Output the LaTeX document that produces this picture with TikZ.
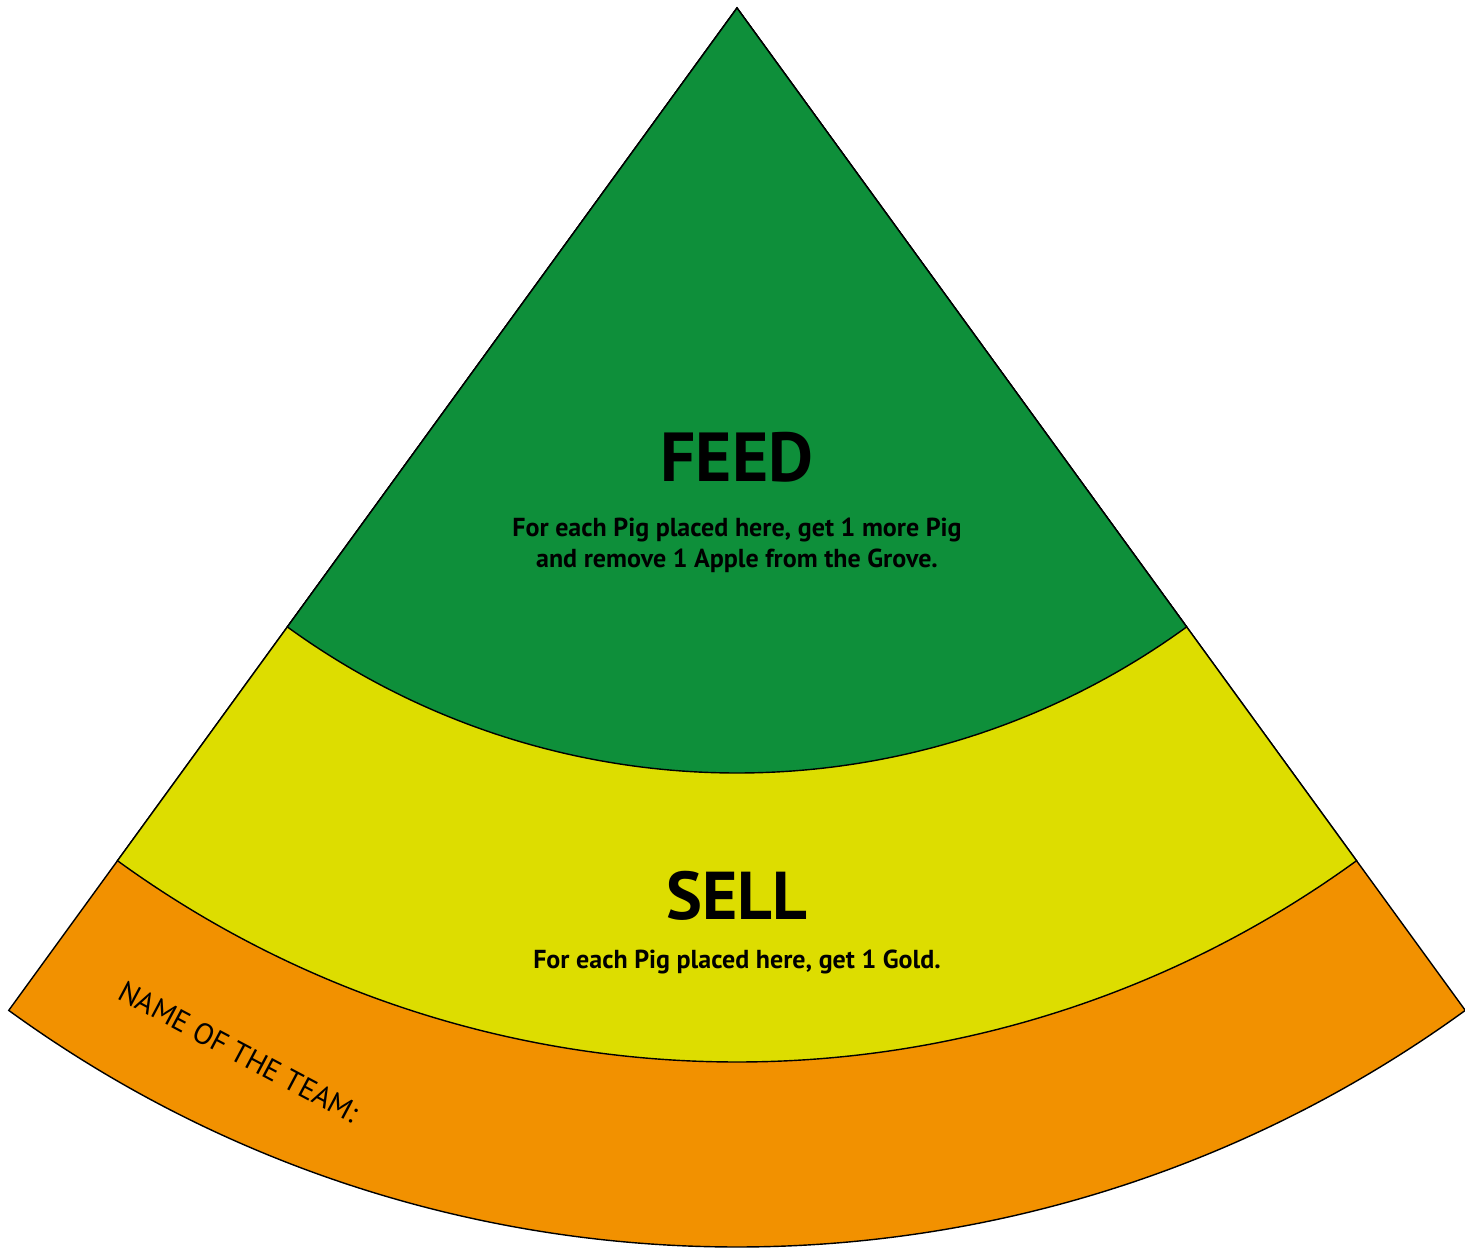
\documentclass[tikz,border=0pt]{standalone}
\usepackage{xcolor}
\usepackage{fontspec}
\setmainfont{PT Sans}
\usepackage{tikz}
\definecolor{feedgreen}{RGB}{14, 143, 58}
\definecolor{sellyellow}{RGB}{221, 221, 0}
\definecolor{teamorange}{RGB}{242, 145, 0}

\begin{document}
\begin{tikzpicture}[line width=0.8pt]
\useasboundingbox (0,0) rectangle (29.3,-24.98);
\coordinate (apex) at (14.74,-0.16);
% rings, outer one first
\foreach \r/\col in {24.78/teamorange, 21.08/sellyellow, 15.30/feedgreen} {
    \draw[black, fill=\col] (apex) -- ++(234:\r) arc[start angle=234, end angle=306, radius=\r] -- cycle;
}
\node[font=\bfseries\fontsize{39.5}{42}\selectfont] (feed) at (14.74,-9.14) {FEED};
\node[font=\bfseries\fontsize{14.8}{17.6}\selectfont, align=center] (feedtext) at (14.74,-10.9) {For each Pig placed here, get 1 more Pig\\and remove 1 Apple from the Grove.};
\node[font=\bfseries\fontsize{38.5}{42}\selectfont] (sell) at (14.74,-17.92) {SELL};
\node[font=\bfseries\fontsize{14.8}{17.6}\selectfont] (selltext) at (14.74,-19.24) {For each Pig placed here, get 1 Gold.};
\node[font=\fontsize{16.8}{18}\selectfont, rotate=-28] (team) at (4.78,-21.04) {NAME OF THE TEAM:};
\end{tikzpicture}
\end{document}
